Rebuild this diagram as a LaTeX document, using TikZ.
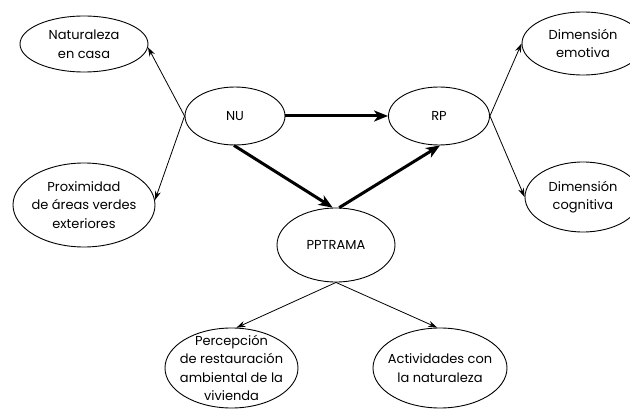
\documentclass[tikz,border=0pt]{standalone}
\usepackage{fontspec}
\setmainfont{Poppins}
\usetikzlibrary{shapes.geometric,arrows.meta}
\tikzset{
  ell/.style={draw, ellipse, inner xsep=-15pt, inner ysep=-12pt, line width=0.9pt, align=center,
    font=\fontsize{13}{18.5}\selectfont},
  thin/.style={line width=0.8pt, -{Stealth[length=9pt,width=6pt]}},
  thick/.style={line width=3pt, -{Stealth[length=14pt,width=11pt,inset=4pt]}}
}
\begin{document}
\begin{tikzpicture}[x=1pt,y=-1pt]
\useasboundingbox (0,0) rectangle (630,409);
\clip (0,0) rectangle (630,409);
\node[ell, minimum width=128pt, minimum height=56pt] (nat) at (84,44) {Naturaleza\\en casa};
\node[ell, minimum width=142pt, minimum height=84pt] (prox) at (84,205) {Proximidad\\de áreas verdes\\exteriores};
\node[ell, minimum width=100pt, minimum height=58pt] (nu) at (235,116) {NU};
\node[ell, minimum width=101pt, minimum height=58pt] (rp) at (439,116) {RP};
\node[ell, minimum width=122pt, minimum height=63pt] (dime) at (583,43.5) {Dimensión\\emotiva};
\node[ell, minimum width=116pt, minimum height=70pt] (dimc) at (583,197) {Dimensión\\cognitiva};
\node[ell, minimum width=118pt, minimum height=74pt] (ppt) at (336,245) {PPTRAMA};
\node[ell, minimum width=133pt, minimum height=80pt] (perc) at (231.5,368) {Percepción\\de restauración\\ambiental de la\\vivienda};
\node[ell, minimum width=134pt, minimum height=80pt] (act) at (440,368) {Actividades con\\la naturaleza};
\draw[thin] (nu.west) -- (nat.-3);
\draw[thin] (nu.west) -- (prox.4);
\draw[thick] (nu.east) -- (rp.west);
\draw[thick] (nu.268) -- (ppt.95);
\draw[thick] (ppt.85) -- (rp.272);
\draw[thin] (rp.east) -- (dime.west);
\draw[thin] (rp.east) -- (dimc.west);
\draw[thin] (ppt.south) -- (perc.83);
\draw[thin] (ppt.south) -- (act.94);
\end{tikzpicture}
\end{document}
